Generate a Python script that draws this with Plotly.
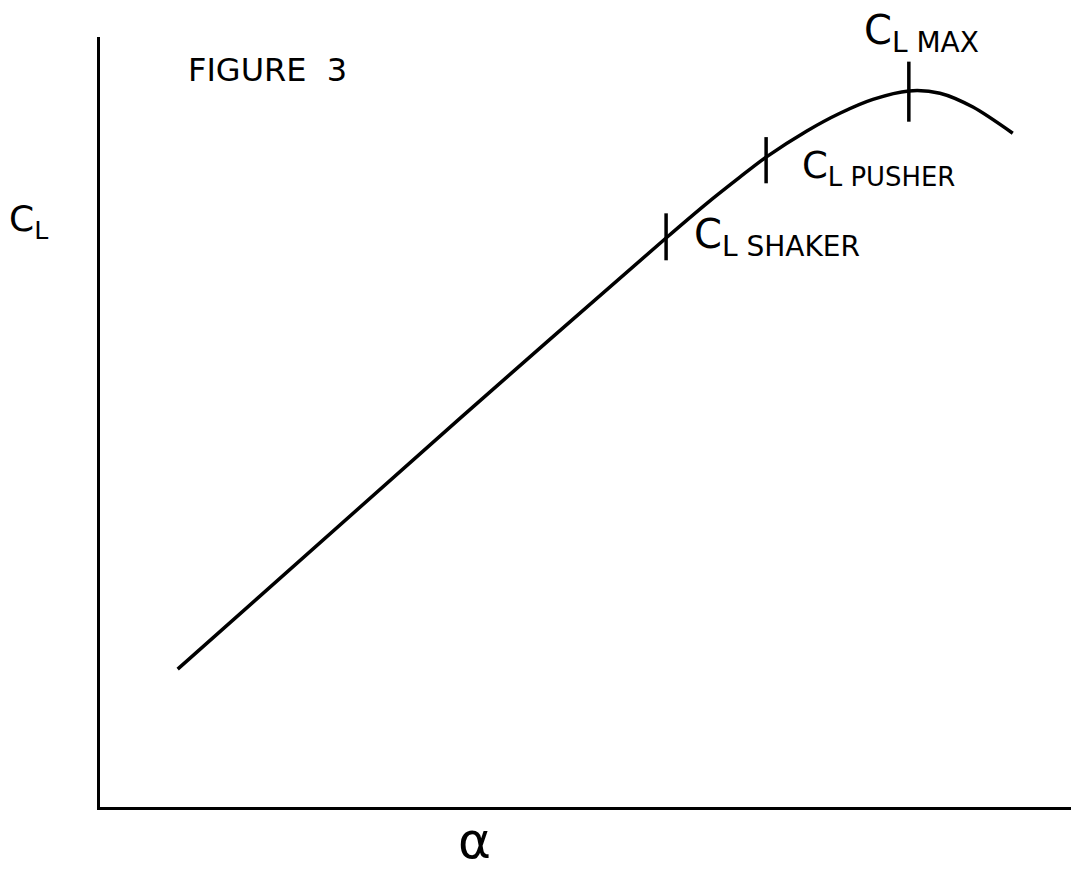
import plotly.graph_objects as go

# Curve (arbitrary units: alpha 0-100, CL 0-100)
alpha = [8.0, 37.1, 58.3, 62.5, 65.9, 68.6, 72.8, 76.2, 79.6, 83.3, 86.5, 89.9, 94.0]
cl = [17.9, 50.5, 73.9, 78.4, 81.8, 84.4, 87.8, 90.1, 91.9, 93.0, 92.7, 90.9, 87.5]

# Marked points: CL shaker, CL pusher, CL max
mark_names = ["SHAKER", "PUSHER", "MAX"]
mark_alpha = [58.3, 68.6, 83.3]
mark_cl = [73.9, 84.4, 93.0]
mark_up = [3.2, 2.6, 3.8]
mark_down = [2.9, 3.4, 4.0]

fig = go.Figure()
fig.add_trace(go.Scatter(x=alpha, y=cl, mode="lines",
                         line=dict(color="black", width=3.5, shape="spline", smoothing=0.8),
                         showlegend=False, hoverinfo="skip"))
fig.add_trace(go.Scatter(x=mark_alpha, y=mark_cl, mode="markers",
                         marker=dict(size=1, color="black", opacity=0),
                         error_y=dict(type="data", symmetric=False, array=mark_up, arrayminus=mark_down,
                                      width=0, thickness=3.5, color="black"),
                         showlegend=False, hoverinfo="skip"))

font = dict(family="DejaVu Sans", color="black")
ann = [
    dict(x=0.089, y=0.957, text="FIGURE  3", xanchor="left", font=dict(size=32, **font)),
    dict(x=0.785, y=1.005, text="C<sub>L MAX</sub>", xanchor="left", font=dict(size=40, **font)),
    dict(x=0.721, y=0.83, text="C<sub>L PUSHER</sub>", xanchor="left", font=dict(size=37, **font)),
    dict(x=0.610, y=0.74, text="C<sub>L SHAKER</sub>", xanchor="left", font=dict(size=40, **font)),
    dict(x=0.386, y=-0.044, text="α", xanchor="center", font=dict(size=50, **font)),
    dict(x=-0.074, y=0.76, text="C<sub>L</sub>", xanchor="center", font=dict(size=36, **font)),
]
for a in ann:
    a.update(xref="paper", yref="paper", showarrow=False, yanchor="middle")

fig.update_layout(
    width=1071, height=869,
    margin=dict(l=100, r=0, t=37, b=62),
    paper_bgcolor="white", plot_bgcolor="white",
    annotations=ann,
    xaxis=dict(range=[0, 100], showgrid=False, zeroline=False, showticklabels=False, ticks="",
               showline=True, linecolor="black", linewidth=3),
    yaxis=dict(range=[0, 100], showgrid=False, zeroline=False, showticklabels=False, ticks="",
               showline=True, linecolor="black", linewidth=3),
)
fig.write_html("out.html", config={"displayModeBar": False},
               post_script="document.body.style.margin='0';document.body.style.overflow='hidden';")
